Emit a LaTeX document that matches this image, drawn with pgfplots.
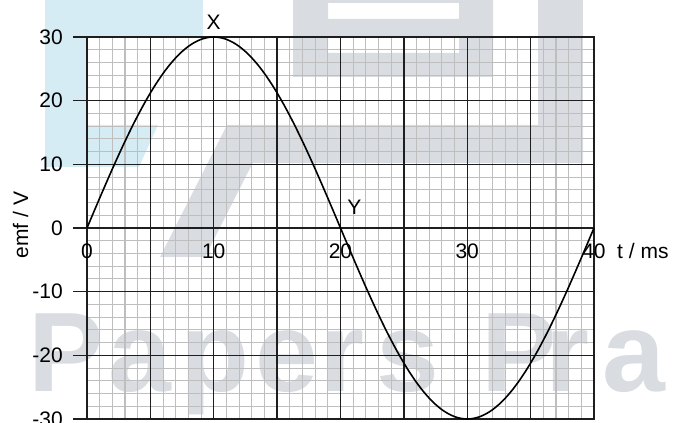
\documentclass[border=0pt]{standalone}
\usepackage{fontspec}
\setmainfont{Liberation Sans}
\usepackage{pgfplots}
\pgfplotsset{compat=1.18}
\usepackage{pgfplotstable}

\definecolor{wmblue}{RGB}{214,236,245}
\definecolor{wmgrey}{RGB}{217,221,225}
\definecolor{minorgrid}{RGB}{190,190,190}
\definecolor{majorgrid}{RGB}{30,30,30}

\newcommand{\lbl}{\fontsize{21}{25}\selectfont}
\newcommand{\wm}{\fontsize{113}{120}\selectfont\bfseries}
\tikzset{
  tlabel/.style={anchor=base, inner sep=0pt, font=\lbl, yshift=-31pt},
  heavy/.style={majorgrid, line width=1.3pt},
}

% induced emf over one full cycle (period 40 ms, peak 30 V)
\pgfplotstableread{
t    emf
0     0
0.5   2.354
1     4.693
1.5   7.003
2     9.271
2.5   11.480
3     13.620
3.5   15.675
4     17.634
4.5   19.483
5     21.213
5.5   22.812
6     24.271
6.5   25.579
7     26.730
7.5   27.716
8     28.532
8.5   29.171
9     29.631
9.5   29.908
10    30
10.5  29.908
11    29.631
11.5  29.171
12    28.532
12.5  27.716
13    26.730
13.5  25.579
14    24.271
14.5  22.812
15    21.213
15.5  19.483
16    17.634
16.5  15.675
17    13.620
17.5  11.480
18    9.271
18.5  7.003
19    4.693
19.5  2.354
20    0
20.5  -2.354
21    -4.693
21.5  -7.003
22    -9.271
22.5  -11.480
23    -13.620
23.5  -15.675
24    -17.634
24.5  -19.483
25    -21.213
25.5  -22.812
26    -24.271
26.5  -25.579
27    -26.730
27.5  -27.716
28    -28.532
28.5  -29.171
29    -29.631
29.5  -29.908
30    -30
30.5  -29.908
31    -29.631
31.5  -29.171
32    -28.532
32.5  -27.716
33    -26.730
33.5  -25.579
34    -24.271
34.5  -22.812
35    -21.213
35.5  -19.483
36    -17.634
36.5  -15.675
37    -13.620
37.5  -11.480
38    -9.271
38.5  -7.003
39    -4.693
39.5  -2.354
40    0
}\emfdata

\begin{document}
\begin{tikzpicture}
\useasboundingbox (0,0) rectangle (673pt,423pt);

% background watermark
\begin{scope}[x=1pt,y=1pt]
  \fill[wmblue] (45,256) rectangle (87,423);
  \fill[wmblue] (87,386) rectangle (203,423);
  \fill[wmblue] (87,298) -- (158,298) -- (139,256) -- (87,256) -- cycle;
  \fill[wmgrey] (160,166) -- (227,298) -- (583,298) -- (583,260)
                -- (252.7,260) -- (205,166) -- cycle;
  \fill[wmgrey] (538,298) rectangle (583,423);
  \fill[wmgrey,even odd rule] (293,346) rectangle (493,423)
        (328,404) rectangle (459,420) (328,370) rectangle (459,386);
  \begin{scope}[every node/.style={anchor=base west, inner sep=0pt,
                text=wmgrey, font=\wm}]
    \node at (28,31)    {P};
    \node at (108.5,31) {a};
    \node at (180.5,31) {p};
    \node at (255.6,31) {e};
    \node at (320.5,31) {r};
    \node at (376.6,31) {s};
    \node at (481,31)   {P};
    \node at (545.5,31) {r};
    \node at (602.5,31) {a};
  \end{scope}
\end{scope}

\begin{axis}[
  at={(87pt,4pt)}, anchor=south west,
  scale only axis, width=507pt, height=382pt,
  xmin=0, xmax=40, ymin=-30, ymax=30,
  xtick={0,5,...,40}, xticklabels={},
  ytick={-30,-20,...,30},
  yticklabels={-30,-20,-10,0,10,20,30},
  minor x tick num=4, minor y tick num=4,
  grid=minor,
  minor grid style={minorgrid, line width=1.1pt},
  axis line style={majorgrid, line width=1.3pt},
  tick align=outside, ytick pos=left,
  major tick length=14pt, minor tick length=0pt,
  xtick style={draw=none},
  ytick style={majorgrid, line width=1.3pt},
  yticklabel style={font=\lbl, anchor=east, inner sep=0pt, xshift=-10pt},
  clip=false,
]
% heavy lines every 5 ms and every 10 V over the fine grid
\pgfplotsinvokeforeach{5,10,15,20,25,30,35}{
  \draw[heavy] (axis cs:#1,-30) -- (axis cs:#1,30);
}
\pgfplotsinvokeforeach{-20,-10,0,10,20}{
  \draw[heavy] (axis cs:0,#1) -- (axis cs:40,#1);
}
\addplot[black, line width=1.6pt, smooth] table[x=t, y=emf] {\emfdata};

% time labels sit just under the zero line
\node[tlabel] at (axis cs:0,0)  {0};
\node[tlabel] at (axis cs:10,0) {10};
\node[tlabel] at (axis cs:20,0) {20};
\node[tlabel] at (axis cs:30,0) {30};
\node[tlabel] at (axis cs:40,0) {40};
\node[tlabel, anchor=base west, xshift=23pt] at (axis cs:40,0) {t / ms};
\node[anchor=base, inner sep=0pt, font=\lbl, yshift=7pt] at (axis cs:10,30) {X};
\node[anchor=base, inner sep=0pt, font=\lbl, xshift=14pt, yshift=13pt] at (axis cs:20,0) {Y};
\end{axis}

\node[rotate=90, anchor=base, inner sep=0pt, font=\lbl] at (28pt,198pt) {emf / V};
\end{tikzpicture}
\end{document}
